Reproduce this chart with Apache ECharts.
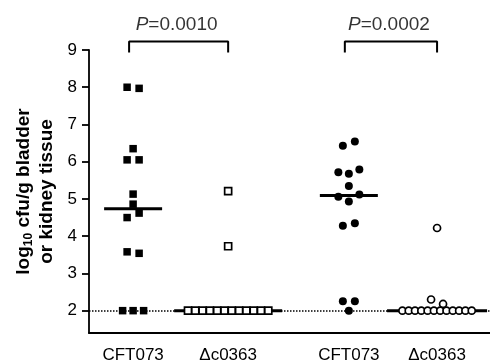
<!DOCTYPE html>
<html><head><meta charset="utf-8">
<script src="https://cdn.jsdelivr.net/npm/echarts@6/dist/echarts.min.js"></script>
<style>html,body{margin:0;padding:0;background:#fff}#c{width:490px;height:364px}</style>
</head><body><div id="c"></div>
<script>
// ---- data ----
const groupLabels = ['CFT073', '\u0394c0363', 'CFT073', '\u0394c0363'];
const groupPos = [11, 34.7, 64.8, 86.8];
const cft1 = [8.0, 7.97, 6.35, 6.05, 6.05, 5.13, 4.86, 4.5, 4.62, 3.58, 3.54, 2, 2, 2];
const del1 = [5.21, 3.73, 2, 2, 2, 2, 2, 2, 2, 2, 2, 2, 2, 2];
const cft2 = [6.43, 6.54, 5.72, 5.68, 5.79, 5.35, 5.06, 4.93, 5.12, 4.28, 4.35, 2.25, 2.25, 2.0];
const del2 = [4.22, 2.3, 2.18, 2, 2, 2, 2, 2, 2, 2, 2, 2, 2, 2, 2];
const yTicks = [2, 3, 4, 5, 6, 7, 8, 9];
const detectionLimit = 2;
const comparisons = [[0, 1, 'P', '=0.0010'], [2, 3, 'P', '=0.0002']];

// ---- layout ----
const W = 490, H = 364;
const grid = {left: 89, right: 0, top: 50, bottom: 30.3};
const yMin = 1.4, yMax = 9, xMin = 0, xMax = 100;
const pxY = (H - grid.top - grid.bottom) / (yMax - yMin);
const pxX = (W - grid.left - grid.right) / (xMax - xMin);
const FONT = "'Liberation Sans', Arial, Helvetica, sans-serif";

const groups = [
  {vals: cft1, symbol: 'rect', filled: true, size: 7.5, rowPitch: 7.3, medHalf: 29},
  {vals: del1, symbol: 'rect', filled: false, size: 7, rowPitch: 7.3, medHalf: 54},
  {vals: cft2, symbol: 'circle', filled: true, size: 8, rowPitch: 6.3, medHalf: 29},
  {vals: del2, symbol: 'circle', filled: false, size: 7, rowPitch: 6.3, medHalf: 50}
];

function median(a) {
  const s = a.slice().sort((p, q) => p - q);
  const n = s.length;
  return n % 2 ? s[(n - 1) / 2] : (s[n / 2 - 1] + s[n / 2]) / 2;
}

// simple row-based scatter spreading (like column scatter plots)
function spread(vals, center, rowPitch) {
  const idx = vals.map((v, i) => i).sort((a, b) => vals[b] - vals[a] || a - b);
  const out = new Array(vals.length);
  let i = 0;
  while (i < idx.length) {
    const start = vals[idx[i]];
    const row = [idx[i]];
    let j = i + 1;
    while (j < idx.length && (start - vals[idx[j]]) * pxY < 7.4) { row.push(idx[j]); j++; }
    row.sort((a, b) => a - b);
    const n = row.length;
    const pitch = n === 1 ? 0 : n === 2 ? 12 : n === 3 ? 10.5 : rowPitch;
    row.forEach((k, r) => {
      out[k] = [center + (r - (n - 1) / 2) * pitch / pxX, vals[k]];
    });
    i = j;
  }
  return out;
}

const series = [];
// detection limit dotted line
series.push({
  type: 'line', data: [], z: 1, silent: true,
  markLine: {
    silent: true, symbol: ['none', 'none'], label: {show: false},
    lineStyle: {color: '#000', width: 1.5, type: [1.5, 1.5], opacity: 1},
    data: [{yAxis: detectionLimit}]
  }
});
groups.forEach((g, gi) => {
  const c = groupPos[gi];
  const m = median(g.vals);
  series.push({
    type: 'line', z: 2, symbol: 'none', silent: true,
    lineStyle: {color: '#000', width: 3},
    data: [[c - g.medHalf / pxX, m], [c + g.medHalf / pxX, m]]
  });
  series.push({
    type: 'scatter', z: 5, symbol: g.symbol, symbolSize: g.size,
    itemStyle: g.filled ? {color: '#000', opacity: 1} : {color: '#fff', borderColor: '#000', borderWidth: 1.7, opacity: 1},
    data: spread(g.vals, c, g.rowPitch)
  });
});
comparisons.forEach(cm => {
  const x1 = groupPos[cm[0]], x2 = groupPos[cm[1]];
  series.push({
    type: 'line', z: 3, symbol: 'none', clip: false, silent: true,
    lineStyle: {color: '#000', width: 2},
    data: [[x1 - 1, 8.93], [x1 - 1, 9.23], [x2, 9.23], [x2, 8.93]]
  });
  series.push({
    type: 'scatter', z: 3, symbolSize: 0, clip: false, silent: true,
    label: {
      show: true, position: 'inside',
      formatter: '{i|' + cm[2] + '}{n|' + cm[3] + '}',
      rich: {
        i: {fontFamily: FONT, fontSize: 19, fontStyle: 'italic', color: '#000'},
        n: {fontFamily: FONT, fontSize: 19, color: '#000'}
      }
    },
    data: [[(x1 + x2) / 2 - 1, 9.68]]
  });
});

const chart = echarts.init(document.getElementById('c'), null, {renderer: 'canvas'});
chart.setOption({
  animation: false,
  backgroundColor: '#fff',
  grid: grid,
  xAxis: {
    type: 'value', min: xMin, max: xMax,
    axisLine: {show: true, onZero: false, lineStyle: {color: '#000', width: 1.8}},
    axisTick: {show: false},
    splitLine: {show: false},
    axisLabel: {
      customValues: groupPos, margin: 14, color: '#000', fontFamily: FONT, fontSize: 17,
      formatter: v => {
        let best = 0;
        groupPos.forEach((p, i) => { if (Math.abs(p - v) < Math.abs(groupPos[best] - v)) best = i; });
        return groupLabels[best];
      }
    }
  },
  yAxis: {
    type: 'value', min: yMin, max: yMax,
    axisLine: {show: true, lineStyle: {color: '#000', width: 1.8}},
    axisTick: {show: true, customValues: yTicks, length: 7, lineStyle: {color: '#000', width: 1.8}},
    splitLine: {show: false},
    axisLabel: {customValues: yTicks, margin: 12, color: '#000', fontFamily: FONT, fontSize: 17},
    name: '{a|log}{s|10}{a| cfu/g bladder}\n{a|or kidney tissue}',
    nameLocation: 'middle', nameRotate: 90, nameGap: 31,
    nameTextStyle: {
      rich: {
        a: {fontFamily: FONT, fontSize: 19, fontWeight: 'bold', color: '#000', lineHeight: 23},
        s: {fontFamily: FONT, fontSize: 12, fontWeight: 'bold', color: '#000', lineHeight: 12, verticalAlign: 'bottom'}
      }
    }
  },
  series: series
});
</script>
</body></html>
